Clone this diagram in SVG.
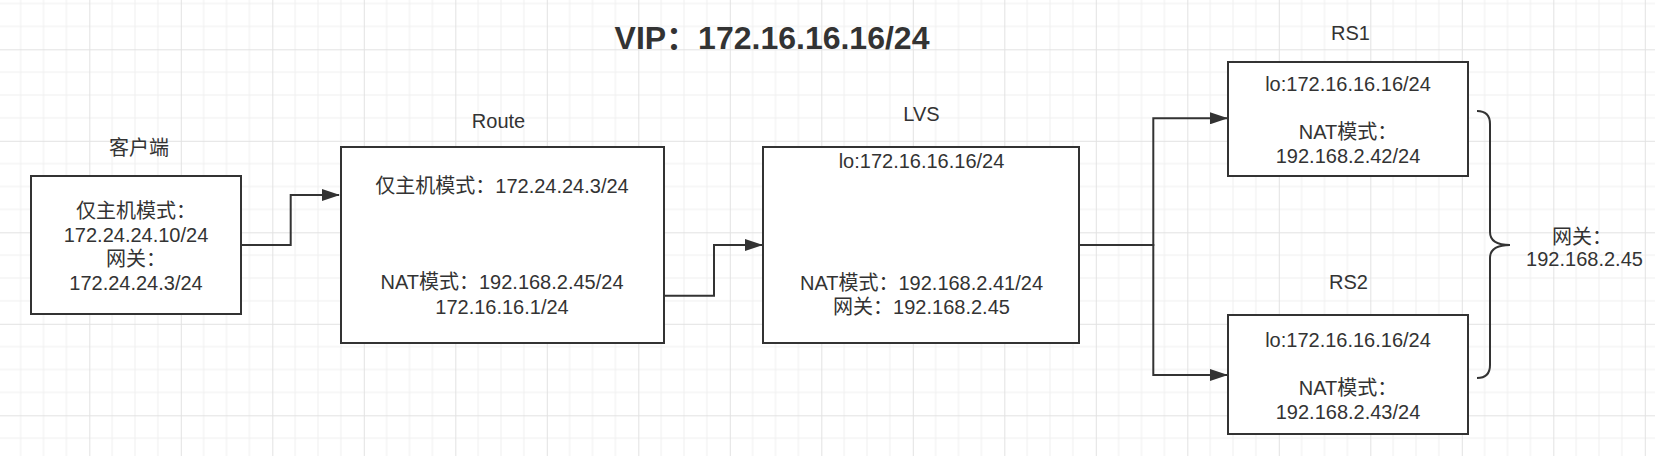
<svg xmlns="http://www.w3.org/2000/svg" width="1655" height="456" viewBox="0 0 1655 456">
<defs>
<style>
.box{fill:#ffffff;stroke:#333333;stroke-width:2}
.t{font-family:"Liberation Sans","Noto Sans CJK SC",sans-serif;font-size:20px;fill:#333333;text-anchor:middle}
.title{font-family:"Liberation Sans","Noto Sans CJK SC",sans-serif;font-size:32px;font-weight:bold;fill:#333333;text-anchor:middle}
.conn{fill:none;stroke:#333333;stroke-width:2}
</style>
<pattern id="grid" patternUnits="userSpaceOnUse" x="89.3" y="49.3" width="91.5" height="91.5">
<path d="M22.875,0V91.5M45.75,0V91.5M68.625,0V91.5M0,22.875H91.5M0,45.75H91.5M0,68.625H91.5" stroke="#efefef" stroke-width="1" fill="none"/>
<path d="M0.5,0V91.5M0,0.5H91.5" stroke="#e2e2e2" stroke-width="1" fill="none"/>
</pattern>
<marker id="arrow" markerUnits="userSpaceOnUse" markerWidth="18" markerHeight="12" refX="17" refY="6" orient="auto">
<path d="M0,0L18,6L0,12z" fill="#333333"/>
</marker>
</defs>
<rect width="1655" height="456" fill="#ffffff"/>
<rect width="1655" height="456" fill="url(#grid)"/>
<text class="title" x="772" y="49">VIP：172.16.16.16/24</text>
<g id="connectors">
<path class="conn" d="M241,245H290.7V195H339" marker-end="url(#arrow)"/>
<path class="conn" d="M664,295.7H714V245H762" marker-end="url(#arrow)"/>
<path class="conn" d="M1079,245H1153.3V118.3H1227" marker-end="url(#arrow)"/>
<path class="conn" d="M1079,245H1153.3V375H1227" marker-end="url(#arrow)"/>
</g>
<g id="client">
<text class="t" x="139" y="155">客户端</text>
<rect class="box" x="31" y="176" width="210" height="138"/>
<text class="t" x="136" y="217.5">仅主机模式：</text>
<text class="t" x="136" y="241.5">172.24.24.10/24</text>
<text class="t" x="136" y="265.5">网关：</text>
<text class="t" x="136" y="289.5">172.24.24.3/24</text>
</g>
<g id="route">
<text class="t" x="498.5" y="128">Route</text>
<rect class="box" x="341" y="147" width="323" height="196"/>
<text class="t" x="502" y="193">仅主机模式：172.24.24.3/24</text>
<text class="t" x="502" y="289">NAT模式：192.168.2.45/24</text>
<text class="t" x="502" y="313.5">172.16.16.1/24</text>
</g>
<g id="lvs">
<text class="t" x="921.5" y="121">LVS</text>
<rect class="box" x="763" y="147" width="316" height="196"/>
<text class="t" x="921.5" y="168">lo:172.16.16.16/24</text>
<text class="t" x="921.5" y="290">NAT模式：192.168.2.41/24</text>
<text class="t" x="921.5" y="314">网关：192.168.2.45</text>
</g>
<g id="rs1">
<text class="t" x="1350.5" y="39.5">RS1</text>
<rect class="box" x="1228" y="62" width="240" height="114"/>
<text class="t" x="1348" y="90.5">lo:172.16.16.16/24</text>
<text class="t" x="1348" y="139">NAT模式：</text>
<text class="t" x="1348" y="163">192.168.2.42/24</text>
</g>
<g id="rs2">
<text class="t" x="1348.5" y="289">RS2</text>
<rect class="box" x="1228" y="315" width="240" height="119"/>
<text class="t" x="1348" y="346.5">lo:172.16.16.16/24</text>
<text class="t" x="1348" y="394.5">NAT模式：</text>
<text class="t" x="1348" y="418.5">192.168.2.43/24</text>
</g>
<g id="gateway">
<path class="conn" d="M1477,111Q1490,111 1490,124V232Q1490,245 1510,245Q1490,245 1490,258V365Q1490,378 1477,378"/>
<text class="t" x="1582" y="243.5">网关：</text>
<text class="t" x="1584.5" y="265.5">192.168.2.45</text>
</g>
</svg>
